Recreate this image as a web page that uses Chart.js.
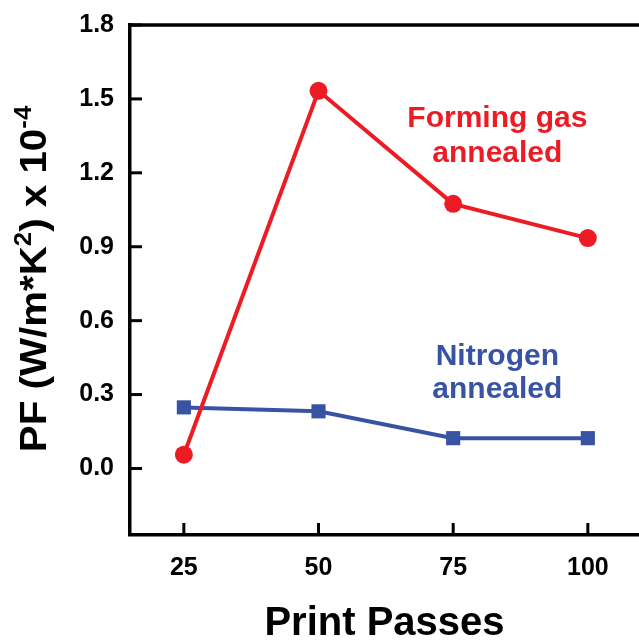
<!DOCTYPE html>
<html>
<head>
<meta charset="utf-8">
<script src="https://cdn.jsdelivr.net/npm/chart.js@4/dist/chart.umd.min.js"></script>
<style>
  html, body { margin: 0; padding: 0; background: #fff; }
  #wrap { width: 639px; height: 641px; }
</style>
</head>
<body>
<div id="wrap"><canvas id="pfChart"></canvas></div>
<script>
// data
var passes = [25, 50, 75, 100];
var formingGas = [0.056, 1.533, 1.074, 0.935];
var nitrogen = [0.248, 0.232, 0.123, 0.123];
var xTicks = [25, 50, 75, 100];
var yTicks = [0, 0.3, 0.6, 0.9, 1.2, 1.5, 1.8];

var RED = "#ED1C24";
var BLUE = "#3853A4";
var FONT = "'Liberation Sans', Arial, sans-serif";

function toPoints(ys) {
  return passes.map(function (p, i) { return { x: p, y: ys[i] }; });
}

// frame top line, inward tick marks, y title with superscripts, curve labels
var extras = {
  id: "extras",
  afterDraw: function (chart) {
    var c = chart.ctx, a = chart.chartArea;
    var xs = chart.scales.x, ys = chart.scales.y;
    c.save();
    c.strokeStyle = "#000";
    c.lineWidth = 3.5;
    c.beginPath();
    c.moveTo(a.left - 1.75, a.top);
    c.lineTo(chart.width, a.top);
    c.stroke();
    c.lineWidth = 3;
    yTicks.forEach(function (v) {
      var py = ys.getPixelForValue(v);
      c.beginPath(); c.moveTo(a.left, py); c.lineTo(a.left + 12, py); c.stroke();
    });
    xTicks.forEach(function (v) {
      var px = xs.getPixelForValue(v);
      c.beginPath(); c.moveTo(px, a.bottom); c.lineTo(px, a.bottom - 12); c.stroke();
    });

    // y axis title
    var parts = [
      ["PF (W/m*K", false], ["2", true], [") x 10", false], ["-4", true]
    ];
    var big = "bold 36px " + FONT, small = "bold 23px " + FONT;
    var total = 0;
    parts.forEach(function (p) { c.font = p[1] ? small : big; total += c.measureText(p[0]).width; });
    c.translate(46, 279);
    c.rotate(-Math.PI / 2);
    c.scale(1.12, 1);
    c.fillStyle = "#000";
    c.textBaseline = "alphabetic";
    c.textAlign = "left";
    var x = -total / 2;
    parts.forEach(function (p) {
      c.font = p[1] ? small : big;
      c.fillText(p[0], x, p[1] ? -15 : 0);
      x += c.measureText(p[0]).width;
    });
    c.restore();

    // curve labels
    c.save();
    c.font = "bold 30px " + FONT;
    c.textAlign = "center";
    c.textBaseline = "alphabetic";
    var lx = xs.getPixelForValue(83.2);
    c.fillStyle = RED;
    c.fillText("Forming gas", lx, ys.getPixelForValue(1.385));
    c.fillText("annealed", lx, ys.getPixelForValue(1.245));
    c.fillStyle = BLUE;
    c.fillText("Nitrogen", lx, ys.getPixelForValue(0.422));
    c.fillText("annealed", lx, ys.getPixelForValue(0.288));
    c.restore();
  }
};

var ctx = document.getElementById("pfChart").getContext("2d");
var pfChart = new Chart(ctx, {
  type: "line",
  data: {
    datasets: [
      {
        label: "Forming gas annealed",
        data: toPoints(formingGas),
        borderColor: RED,
        backgroundColor: RED,
        borderWidth: 4,
        pointStyle: "circle",
        pointRadius: 9,
        pointBorderWidth: 0,
      },
      {
        label: "Nitrogen annealed",
        data: toPoints(nitrogen),
        borderColor: BLUE,
        backgroundColor: BLUE,
        borderWidth: 4,
        pointStyle: "rect",
        pointRadius: 10,
        pointBorderWidth: 0,
      },
    ],
  },
  options: {
    responsive: true,
    maintainAspectRatio: false,
    animation: false,
    layout: { autoPadding: false, padding: { top: 25, right: 0, left: 0, bottom: 0 } },
    plugins: {
      legend: { display: false },
      tooltip: { enabled: false },
    },
    scales: {
      x: {
        type: "linear",
        min: 15,
        max: 109.5,
        afterBuildTicks: function (s) { s.ticks = xTicks.map(function (v) { return { value: v }; }); },
        afterFit: function (s) { s.height = 106; s.paddingLeft = 0; s.paddingRight = 0; },
        grid: { display: false, drawTicks: false },
        border: { display: true, color: "#000", width: 3.5 },
        ticks: {
          color: "#000",
          padding: 18,
          maxRotation: 0,
          font: { family: FONT, size: 25, weight: "bold" },
        },
        title: {
          display: true,
          text: "Print Passes",
          color: "#000",
          font: { family: FONT, size: 40, weight: "bold" },
          padding: { top: 30, bottom: -7 },
        },
      },
      y: {
        min: -0.27,
        max: 1.8,
        afterBuildTicks: function (s) { s.ticks = yTicks.map(function (v) { return { value: v }; }); },
        afterFit: function (s) { s.width = 130; s.paddingTop = 0; s.paddingBottom = 0; },
        grid: { display: false, drawTicks: false },
        border: { display: true, color: "#000", width: 3.5 },
        ticks: {
          color: "#000",
          padding: 16,
          font: { family: FONT, size: 25, weight: "bold" },
          callback: function (v) { return v.toFixed(1); },
        },
      },
    },
  },
  plugins: [extras],
});
</script>
</body>
</html>
